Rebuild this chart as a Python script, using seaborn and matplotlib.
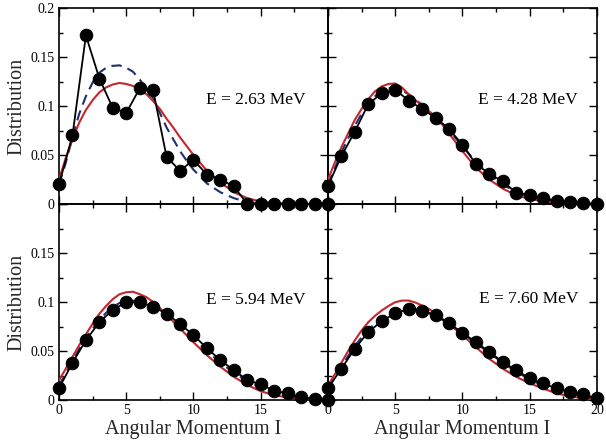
import matplotlib
matplotlib.use("Agg")
import matplotlib.pyplot as plt
import seaborn as sns
from matplotlib.ticker import MultipleLocator

# ---------------- data ----------------
I = list(range(21))
# curve abscissae: half steps up to 10, then unit steps
I_curve = [0, 0.5, 1, 1.5, 2, 2.5, 3, 3.5, 4, 4.5, 5, 5.5, 6, 6.5, 7, 7.5, 8, 8.5,
           9, 9.5, 10, 11, 12, 13, 14, 15, 16, 17, 18, 19, 20]

energies = ["E = 2.63 MeV", "E = 4.28 MeV", "E = 5.94 MeV", "E = 7.60 MeV"]

data_263 = [0.020, 0.070, 0.172, 0.128, 0.098, 0.093, 0.118, 0.116, 0.048, 0.034,
            0.045, 0.030, 0.025, 0.018, 0.0, 0.0, 0.0, 0.0, 0.0, 0.0, 0.0]
red_263 = [0.025, 0.047, 0.066, 0.083, 0.096, 0.106, 0.114, 0.119, 0.122, 0.1235,
           0.1225, 0.1205, 0.117, 0.112, 0.105, 0.097, 0.087, 0.078, 0.068, 0.059,
           0.050, 0.034, 0.022, 0.012, 0.006, 0.0025, 0.001, 0.0004, 0.0001, 0.0, 0.0]
blue_263 = [0.020, 0.042, 0.068, 0.092, 0.110, 0.124, 0.134, 0.139, 0.141, 0.1415,
            0.139, 0.135, 0.127, 0.118, 0.108, 0.093, 0.078, 0.066, 0.054, 0.044,
            0.035, 0.021, 0.012, 0.006, 0.002, 0.0005, 0.0001, 0.0, 0.0, 0.0, 0.0]

data_428 = [0.0185, 0.049, 0.074, 0.102, 0.113, 0.1166, 0.1056, 0.097, 0.088, 0.0766,
            0.0605, 0.0407, 0.031, 0.023, 0.0116, 0.009, 0.0065, 0.003, 0.002, 0.001, 0.0]
red_428 = [0.025, 0.042, 0.058, 0.072, 0.086, 0.097, 0.107, 0.115, 0.120, 0.1225,
           0.123, 0.119, 0.112, 0.106, 0.1005, 0.095, 0.088, 0.081, 0.072, 0.063,
           0.054, 0.037, 0.025, 0.0157, 0.009, 0.005, 0.003, 0.001, 0.0004, 0.0001, 0.0]
blue_428 = [0.020, 0.036, 0.053, 0.067, 0.080, 0.092, 0.103, 0.110, 0.116, 0.118,
            0.119, 0.116, 0.112, 0.107, 0.101, 0.095, 0.089, 0.082, 0.075, 0.067,
            0.059, 0.043, 0.030, 0.020, 0.012, 0.0075, 0.0045, 0.0025, 0.0012, 0.0006, 0.0002]

data_594 = [0.012, 0.038, 0.061, 0.0795, 0.092, 0.0998, 0.0998, 0.0954, 0.088, 0.0778,
            0.066, 0.053, 0.0406, 0.0305, 0.0203, 0.016, 0.0095, 0.0068, 0.0027, 0.001, 0.0]
red_594 = [0.020, 0.032, 0.044, 0.056, 0.067, 0.078, 0.088, 0.096, 0.103, 0.108,
           0.110, 0.1105, 0.108, 0.105, 0.100, 0.094, 0.087, 0.080, 0.073, 0.066,
           0.059, 0.0457, 0.034, 0.0237, 0.0154, 0.009, 0.005, 0.0025, 0.001, 0.0005, 0.0002]
blue_594 = [0.015, 0.027, 0.040, 0.052, 0.063, 0.073, 0.082, 0.089, 0.095, 0.099,
            0.101, 0.1015, 0.100, 0.098, 0.095, 0.091, 0.086, 0.081, 0.075, 0.069,
            0.063, 0.050, 0.038, 0.028, 0.019, 0.013, 0.008, 0.0045, 0.0025, 0.0012, 0.0006]

data_760 = [0.012, 0.032, 0.0525, 0.0694, 0.0805, 0.0887, 0.0927, 0.0907, 0.0863, 0.0785,
            0.0684, 0.0592, 0.049, 0.0389, 0.0305, 0.022, 0.017, 0.0119, 0.0085, 0.0058, 0.0017]
red_760 = [0.015, 0.026, 0.038, 0.050, 0.061, 0.071, 0.0795, 0.086, 0.0914, 0.096,
           0.0998, 0.1015, 0.1015, 0.0995, 0.0964, 0.093, 0.0887, 0.083, 0.0778, 0.072,
           0.066, 0.054, 0.042, 0.032, 0.0237, 0.017, 0.0118, 0.0068, 0.0037, 0.0017, 0.0007]
blue_760 = [0.012, 0.023, 0.034, 0.045, 0.055, 0.064, 0.072, 0.078, 0.084, 0.088,
            0.091, 0.0925, 0.093, 0.0925, 0.091, 0.089, 0.086, 0.082, 0.078, 0.073,
            0.068, 0.058, 0.048, 0.038, 0.029, 0.021, 0.015, 0.010, 0.0065, 0.004, 0.002]

panels = [
    (data_263, red_263, blue_263),
    (data_428, red_428, blue_428),
    (data_594, red_594, blue_594),
    (data_760, red_760, blue_760),
]

x_ticks = [0, 5, 10, 15, 20]
y_ticks = [0, 0.05, 0.1, 0.15, 0.2]
y_ticklabels = ["0", "0.05", "0.1", "0.15", "0.2"]

# ---------------- style ----------------
sns.set_style("ticks")
plt.rcParams["font.family"] = ["Liberation Serif", "DejaVu Serif"]

RED = "#c4262e"
BLUE = "#1f2f6e"

fig, axes = plt.subplots(2, 2, figsize=(6.06, 4.45), dpi=100)
fig.patch.set_facecolor("white")
fig.subplots_adjust(left=0.0974, right=0.985, top=0.982, bottom=0.101,
                    hspace=0, wspace=0)

text_pos = [(18.3, 0.106), (18.6, 0.106), (18.3, 0.1025), (18.6, 0.1035)]

for k, ax in enumerate(axes.flat):
    data, red, blue = panels[k]
    ax.set_facecolor("none")
    sns.lineplot(x=I_curve, y=blue, ax=ax, color=BLUE, lw=1.5,
                 linestyle=(0, (5, 3)), legend=False, zorder=3)
    sns.lineplot(x=I_curve, y=red, ax=ax, color=RED, lw=1.5, legend=False, zorder=4)
    sns.lineplot(x=I, y=data, ax=ax, color="black", lw=1.3, marker="o",
                 markersize=9, markeredgecolor="black", markerfacecolor="black",
                 clip_on=False, legend=False, zorder=5)

    ax.set_xlim(0, 20)
    ax.set_ylim(0, 0.2)
    ax.set_xticks(x_ticks)
    ax.set_yticks(y_ticks)
    ax.xaxis.set_minor_locator(MultipleLocator(2.5))
    ax.yaxis.set_minor_locator(MultipleLocator(0.025))
    ax.tick_params(which="both", direction="in", top=True, right=True,
                   width=1.0, colors="black", labelsize=10, pad=3)
    ax.tick_params(which="major", length=6)
    ax.tick_params(which="minor", length=3)
    for sp in ax.spines.values():
        sp.set_visible(True)
        sp.set_linewidth(1.2)
        sp.set_color("black")

    row, col = divmod(k, 2)
    if col == 0:
        labels = list(y_ticklabels)
        if row == 1:
            labels[-1] = ""
        ax.set_yticklabels(labels)
        ax.set_ylabel("Distribution", fontsize=14.5, labelpad=3)
    else:
        ax.tick_params(labelleft=False)
        ax.set_ylabel("")
    if row == 1:
        xl = [str(t) for t in x_ticks]
        if col == 0:
            xl[-1] = ""
        ax.set_xticklabels(xl)
        ax.set_xlabel("Angular Momentum I", fontsize=14.5, labelpad=2)
    else:
        ax.tick_params(labelbottom=False)
        ax.set_xlabel("")

    tx, ty = text_pos[k]
    ax.text(tx, ty, energies[k], ha="right", va="center", fontsize=12.5,
            color="black", zorder=6)

fig.savefig("out.png", dpi=100, facecolor="white")
